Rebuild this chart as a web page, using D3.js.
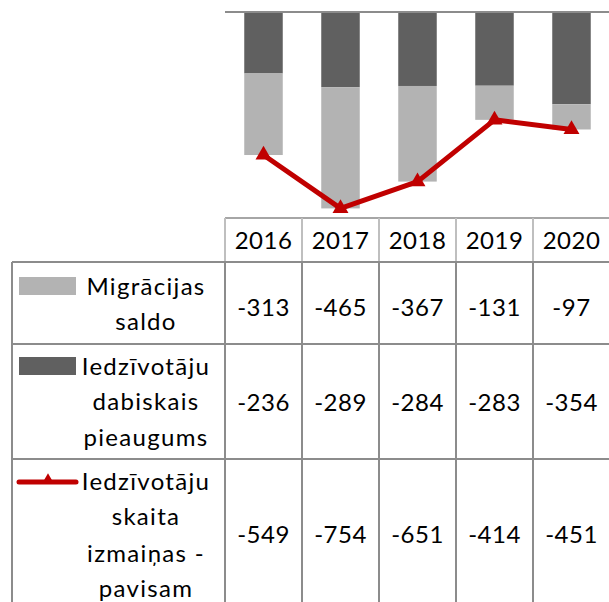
<!DOCTYPE html>
<html>
<head>
<meta charset="utf-8">
<script src="https://cdn.jsdelivr.net/npm/d3@7"></script>
<style>
  html, body { margin: 0; padding: 0; background: #fff; }
  svg { display: block; font-family: Lato, "Noto Sans", sans-serif; }
</style>
</head>
<body>
<svg id="chart" width="609" height="602"></svg>
<script>
// chart data
const years = ["2016", "2017", "2018", "2019", "2020"];
const migration = [-313, -465, -367, -131, -97];   // Migrācijas saldo
const natural = [-236, -289, -284, -283, -354];    // Iedzīvotāju dabiskais pieaugums
const total = [-549, -754, -651, -414, -451];      // Iedzīvotāju skaita izmaiņas - pavisam

const rowLabels = [
  ["Migrācijas", "saldo"],
  ["Iedzīvotāju", "dabiskais", "pieaugums"],
  ["Iedzīvotāju", "skaita", "izmaiņas -", "pavisam"]
];

const W = 609, H = 602;
const svg = d3.select("#chart");

const colDark = "#606060";
const colLight = "#b3b3b3";
const colRed = "#c00000";
const gridCol = "#8c8c8c";

const x = d3.scaleBand().domain(years).range([225, 610]).paddingInner(0.5).paddingOuter(0.25);
const xCol = d3.scaleBand().domain(years).range([225, 610]);
const y = d3.scaleLinear().domain([-800, 0]).range([220.4, 12]);

// stacked bars: natural first from zero, migration beneath it
const bars = svg.append("g");
years.forEach((yr, i) => {
  bars.append("rect")
    .attr("x", x(yr)).attr("width", x.bandwidth())
    .attr("y", y(0)).attr("height", y(natural[i]) - y(0))
    .attr("fill", colDark);
  bars.append("rect")
    .attr("x", x(yr)).attr("width", x.bandwidth())
    .attr("y", y(natural[i])).attr("height", y(natural[i] + migration[i]) - y(natural[i]))
    .attr("fill", colLight);
});

// zero line
svg.append("line")
  .attr("x1", 225).attr("x2", W)
  .attr("y1", y(0)).attr("y2", y(0))
  .attr("stroke", gridCol).attr("stroke-width", 2);

// total line
const line = d3.line().x((d, i) => x(years[i]) + x.bandwidth() / 2).y(d => y(d));
svg.append("path")
  .datum(total)
  .attr("d", line)
  .attr("fill", "none")
  .attr("stroke", colRed)
  .attr("stroke-width", 5)
  .attr("stroke-linejoin", "round");

const tri = d3.symbol().type(d3.symbolTriangle).size(110);
svg.selectAll(".mark")
  .data(total)
  .join("path")
  .attr("class", "mark")
  .attr("d", tri)
  .attr("transform", (d, i) => `translate(${x(years[i]) + x.bandwidth() / 2},${y(d)})`)
  .attr("fill", colRed);

// data table
const tbl = svg.append("g");
const headTop = 218, headBot = 262;
const rowBounds = [[262, 344], [344, 459], [459, 610]];
const tableLeft = 12, labelRight = 225;
const fs = 24;

// header
years.forEach(yr => {
  tbl.append("text")
    .attr("x", xCol(yr) + xCol.bandwidth() / 2)
    .attr("y", (headTop + headBot) / 2 + 1)
    .attr("dy", "0.35em")
    .attr("text-anchor", "middle")
    .attr("font-size", fs)
    .attr("letter-spacing", 0.5)
    .attr("fill", "#000")
    .text(yr);
});

// header grid (lighter)
tbl.append("line")
  .attr("x1", labelRight).attr("x2", W)
  .attr("y1", headTop).attr("y2", headTop)
  .attr("stroke", "#a6a6a6").attr("stroke-width", 2);
years.forEach(yr => {
  tbl.append("line")
    .attr("x1", xCol(yr)).attr("x2", xCol(yr))
    .attr("y1", headTop).attr("y2", headBot)
    .attr("stroke", "#bfbfbf").attr("stroke-width", 2);
});

// body grid
rowBounds.forEach(([t, b]) => {
  tbl.append("line")
    .attr("x1", tableLeft).attr("x2", W)
    .attr("y1", t).attr("y2", t)
    .attr("stroke", gridCol).attr("stroke-width", 2);
});
tbl.append("line")
  .attr("x1", tableLeft).attr("x2", tableLeft)
  .attr("y1", headBot).attr("y2", H)
  .attr("stroke", gridCol).attr("stroke-width", 2);
years.forEach(yr => {
  tbl.append("line")
    .attr("x1", xCol(yr)).attr("x2", xCol(yr))
    .attr("y1", headBot).attr("y2", H)
    .attr("stroke", gridCol).attr("stroke-width", 2);
});

// values
const rows = [migration, natural, total];
const valueCenters = [308, 403, 535];
rows.forEach((vals, r) => {
  vals.forEach((v, i) => {
    tbl.append("text")
      .attr("x", xCol(years[i]) + xCol.bandwidth() / 2)
      .attr("y", valueCenters[r])
      .attr("dy", "0.35em")
      .attr("text-anchor", "middle")
      .attr("font-size", fs)
      .attr("letter-spacing", 0.5)
      .text(String(v));
  });
});

// row labels
const labelBaselines = [[295, 330], [375, 410, 446], [490, 525, 562, 597]];
rowLabels.forEach((lines, r) => {
  lines.forEach((txt, k) => {
    tbl.append("text")
      .attr("x", 146)
      .attr("y", labelBaselines[r][k])
      .attr("text-anchor", "middle")
      .attr("font-size", fs)
      .attr("letter-spacing", 1.3)
      .text(txt);
  });
});

// legend keys
tbl.append("rect").attr("x", 19).attr("y", 277).attr("width", 57).attr("height", 18).attr("fill", colLight);
tbl.append("rect").attr("x", 19).attr("y", 357).attr("width", 57).attr("height", 18).attr("fill", colDark);
tbl.append("line")
  .attr("x1", 19).attr("x2", 76).attr("y1", 482).attr("y2", 482)
  .attr("stroke", colRed).attr("stroke-width", 5).attr("stroke-linecap", "round");
tbl.append("path")
  .attr("d", d3.symbol().type(d3.symbolTriangle).size(60))
  .attr("transform", "translate(48,480)")
  .attr("fill", colRed);
</script>
</body>
</html>
